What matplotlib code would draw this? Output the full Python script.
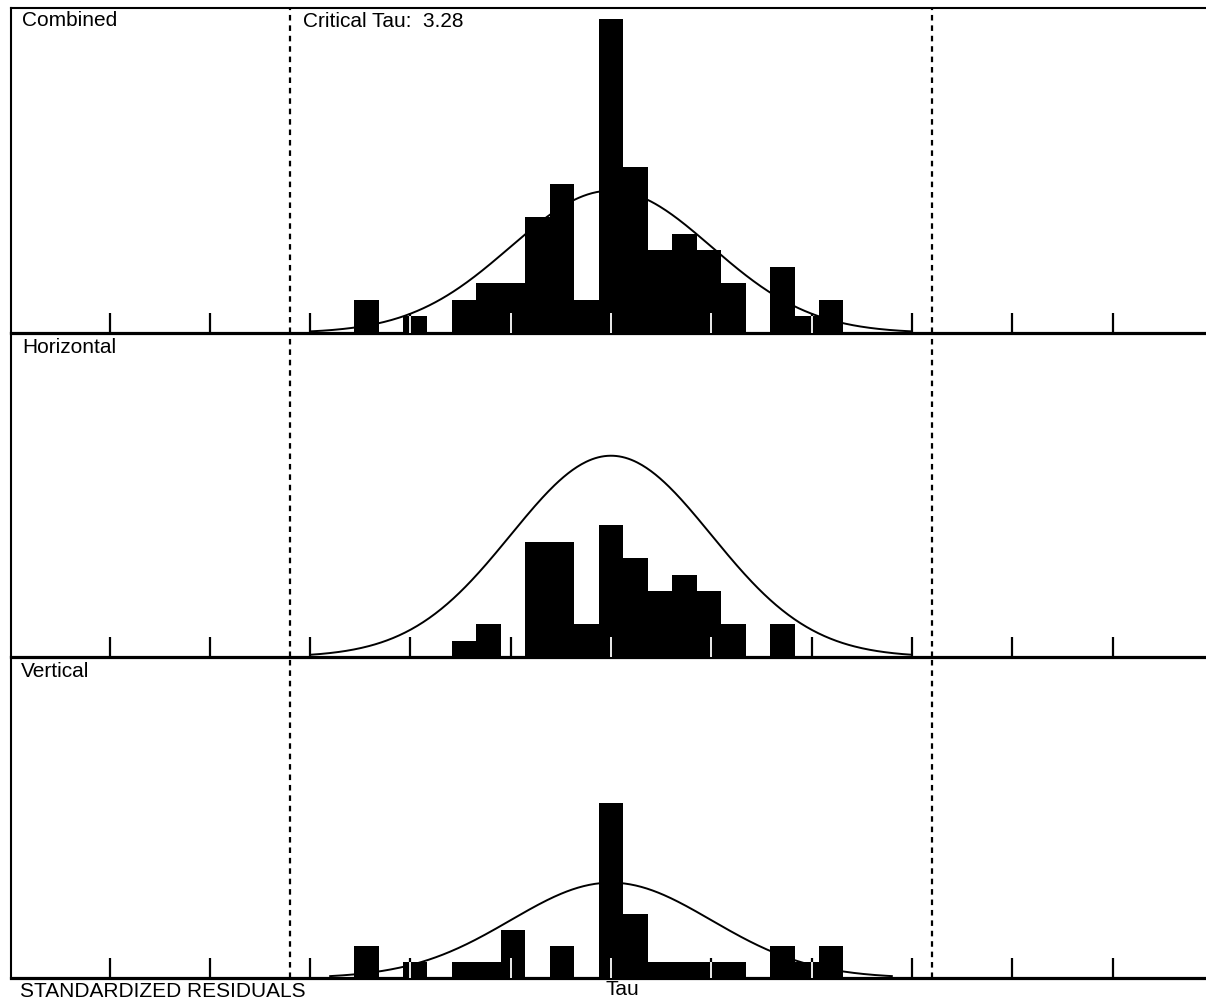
import numpy as np
import matplotlib.pyplot as plt

plt.rcParams['font.family'] = ['Liberation Sans', 'DejaVu Sans']
plt.rcParams['lines.scale_dashes'] = False

# histogram bins are centred on k * bin_width (tau units)
bin_width = 0.244
bin_index = list(range(-10, 10))

combined = [2, 0, 1, 0, 2, 3, 3, 7, 9, 2, 19, 10, 5, 6, 5, 3, 0, 4, 1, 2]
horizontal = [0, 0, 0, 0, 1, 2, 0, 7, 7, 2, 8, 6, 4, 5, 4, 2, 0, 2, 0, 0]
vertical = [2, 0, 1, 0, 1, 1, 3, 0, 2, 0, 11, 4, 1, 1, 1, 1, 0, 2, 1, 2]

panel_names = ['Combined', 'Horizontal', 'Vertical']

# normal curve drawn over each histogram (mean 0, sigma 1)
curve_peak = [8.6, 12.2, 6.0]
curve_span = [3.0, 3.0, 2.8]

tau_ticks = [-5, -4, -3, -2, -1, 0, 1, 2, 3, 4, 5]
critical_tau = 3.28
critical_line = 3.2

# layout (figure fractions) and y range of each panel
fig = plt.figure(figsize=(12.06, 10.02), dpi=100)
left = 11 / 1206
boxes = [(0.6677, 0.3244), (0.3443, 0.3234), (0.02395, 0.3204)]
ytops = [19.64, 19.64, 20.2]

data = [combined, horizontal, vertical]
centers = np.array(bin_index) * bin_width

for i in range(3):
    bottom, height = boxes[i]
    ax = fig.add_axes([left, bottom, 1 - left, height])
    ax.patch.set_visible(False)
    counts = data[i]

    xc = np.linspace(-curve_span[i], curve_span[i], 400)
    ax.plot(xc, curve_peak[i] * np.exp(-xc ** 2 / 2), color='black', lw=1.4, zorder=1)
    ax.bar(centers, counts, width=bin_width, color='black', linewidth=0, zorder=2)

    # ticks: black above the bars, white where they cross a bar
    tick_h = ytops[i] * 20 / 324
    ax.vlines(tau_ticks, 0, tick_h, color='black', lw=1.6, zorder=3)
    for t in tau_ticks:
        k = int(round(t / bin_width))
        if k in bin_index:
            h = counts[bin_index.index(k)]
            if h > 0:
                ax.vlines(t, 0, min(h, tick_h), color='white', lw=1.3, zorder=4)

    for xv in (-critical_line, critical_line):
        ax.axvline(xv, color='black', lw=1.6, dashes=(4, 3.5), zorder=5)

    ax.set_xlim((11 - 611) / 100.3, (1206 - 611) / 100.3)
    ax.set_ylim(0, ytops[i])
    ax.set_xticks([])
    ax.set_yticks([])
    ax.spines['right'].set_visible(False)
    ax.spines['bottom'].set_linewidth(2.3)
    ax.spines['left'].set_linewidth(1.5)
    if i == 0:
        ax.spines['top'].set_linewidth(1.5)
    else:
        ax.spines['top'].set_visible(False)

fs = 15
fig.text(22 / 1206, 1 - 11 / 1002, panel_names[0], fontsize=fs, va='top')
fig.text(303 / 1206, 1 - 12 / 1002, 'Critical Tau:  %.2f' % critical_tau, fontsize=fs, va='top')
fig.text(22 / 1206, 1 - 338 / 1002, panel_names[1], fontsize=fs, va='top')
fig.text(21 / 1206, 1 - 662 / 1002, panel_names[2], fontsize=fs, va='top')
fig.text(20 / 1206, 1 - 982 / 1002, 'STANDARDIZED RESIDUALS', fontsize=fs, va='top')
fig.text(605 / 1206, 1 - 980 / 1002, 'Tau', fontsize=fs, va='top')

fig.savefig('out.png', dpi=100, facecolor='white')
